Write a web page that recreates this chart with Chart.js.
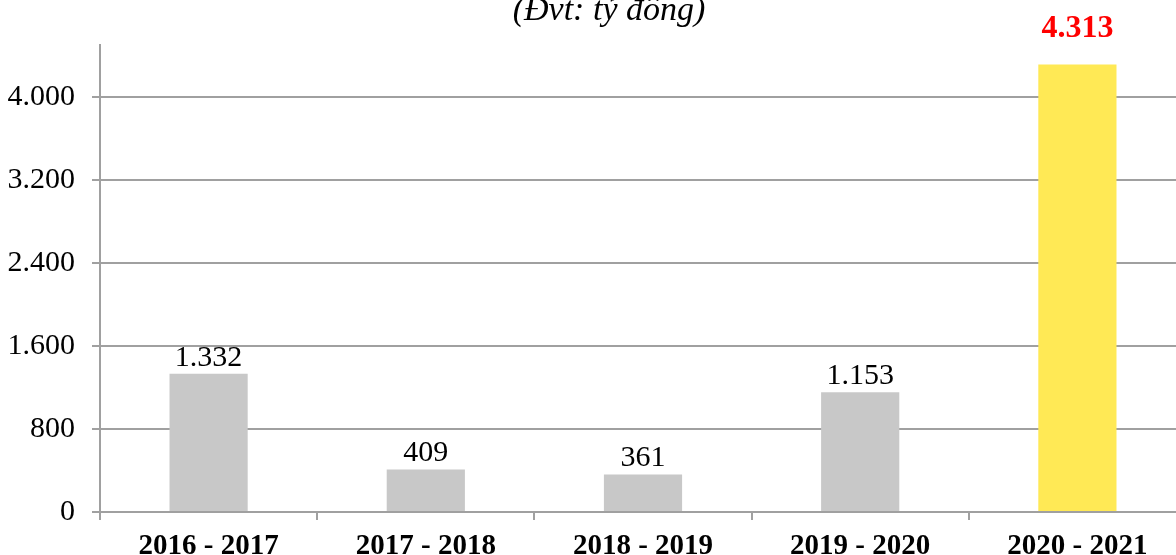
<!DOCTYPE html>
<html>
<head>
<meta charset="utf-8">
<script src="https://cdn.jsdelivr.net/npm/chart.js@4"></script>
<style>
  html, body { margin: 0; padding: 0; background: #fff; overflow: hidden; }
  #wrap { width: 1200px; height: 555px; }
</style>
</head>
<body>
<div id="wrap"><canvas id="profit-chart" width="1200" height="555"></canvas></div>
<script>
// DATA
var categories = ["2016 - 2017", "2017 - 2018", "2018 - 2019", "2019 - 2020", "2020 - 2021"];
var values = [1332, 409, 361, 1153, 4313];
var tickValues = [0, 800, 1600, 2400, 3200, 4000];
var unitLabel = "(\u0110vt: t\u1ef7 \u0111\u1ed3ng)";

var barColors = ["#c8c8c8", "#c8c8c8", "#c8c8c8", "#c8c8c8", "#ffe955"];
var serif = "'Liberation Serif', 'Times New Roman', serif";

function fmt(n) {
  return String(n).replace(/\B(?=(\d{3})+(?!\d))/g, ".");
}

// labels above bars + unit caption
var labelPlugin = {
  id: "labels",
  afterDatasetsDraw: function (chart) {
    var ctx = chart.ctx;
    var meta = chart.getDatasetMeta(0);
    ctx.save();
    ctx.textAlign = "center";
    ctx.textBaseline = "middle";
    meta.data.forEach(function (bar, i) {
      var last = i === values.length - 1;
      if (last) {
        ctx.font = "bold 32px " + serif;
        ctx.fillStyle = "#ff0000";
        ctx.fillText(fmt(values[i]), bar.x, bar.y - 36);
      } else {
        ctx.font = "30px " + serif;
        ctx.fillStyle = "#000";
        ctx.fillText(fmt(values[i]), bar.x, bar.y - 16);
      }
    });
    ctx.font = "italic 34px " + serif;
    ctx.fillStyle = "#000";
    ctx.fillText(unitLabel, 609, 11);
    ctx.restore();
  }
};

var ctx = document.getElementById("profit-chart").getContext("2d");
var chart = new Chart(ctx, {
  type: "bar",
  data: {
    labels: categories,
    datasets: [
      {
        data: values,
        backgroundColor: barColors,
        borderWidth: 0,
        barPercentage: 0.36,
        categoryPercentage: 1,
      },
    ],
  },
  options: {
    responsive: false,
    animation: false,
    layout: { padding: { top: 45, right: 14 } },
    plugins: {
      legend: { display: false },
      tooltip: { enabled: false },
    },
    scales: {
      x: {
        grid: {
          offset: true,
          drawOnChartArea: false,
          drawTicks: true,
          tickLength: 8,
          color: "#a0a0a0",
          lineWidth: 2,
        },
        border: { color: "#a0a0a0", width: 2 },
        ticks: {
          color: "#000",
          font: { family: serif, size: 29, weight: "bold" },
          padding: 9,
          maxRotation: 0,
        },
        afterFit: function (scale) { scale.height = 43; },
      },
      y: {
        min: 0,
        max: 4500,
        afterBuildTicks: function (scale) {
          scale.ticks = tickValues.map(function (v) { return { value: v }; });
        },
        grid: {
          color: "#a0a0a0",
          lineWidth: 2,
          tickLength: 8,
        },
        border: { color: "#a0a0a0", width: 2 },
        ticks: {
          color: "#000",
          font: { family: serif, size: 30 },
          padding: 17,
          callback: function (v) { return fmt(v); },
        },
        afterFit: function (scale) { scale.width = 100; },
      },
    },
  },
  plugins: [labelPlugin],
});
</script>
</body>
</html>
